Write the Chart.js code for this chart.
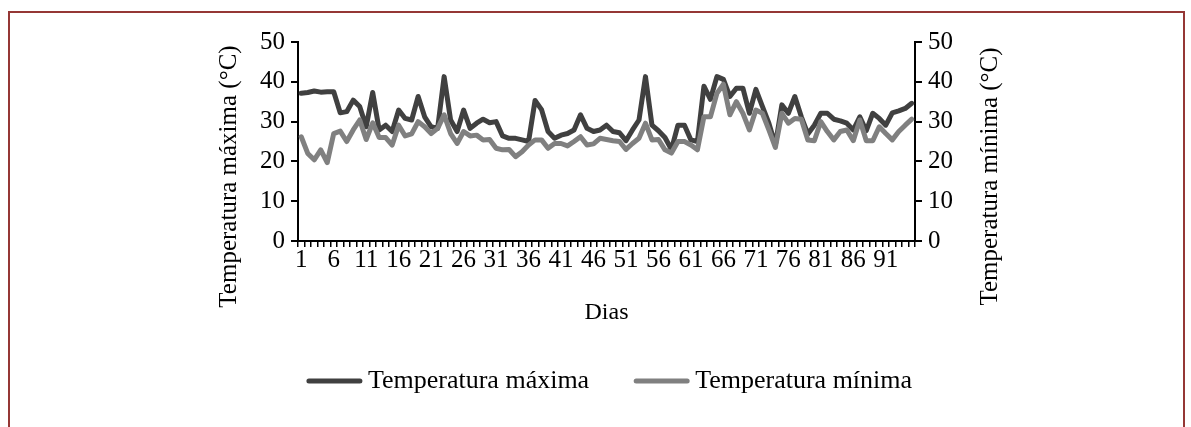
<!DOCTYPE html>
<html><head><meta charset="utf-8">
<script src="https://cdn.jsdelivr.net/npm/chart.js@4"></script>
<style>
html,body{margin:0;padding:0;background:#fff;overflow:hidden;}
#frame{position:absolute;left:8px;top:11px;width:1173px;height:500px;border:2px solid #953735;}
#wrap{position:absolute;left:0;top:0;width:1191px;height:427px;}
</style></head><body>
<div id="frame"></div>
<div id="wrap"><canvas id="c" width="1191" height="427"></canvas></div>
<script>
const days = [1,2,3,4,5,6,7,8,9,10,11,12,13,14,15,16,17,18,19,20,21,22,23,24,25,26,27,28,29,30,31,32,33,34,35,36,37,38,39,40,41,42,43,44,45,46,47,48,49,50,51,52,53,54,55,56,57,58,59,60,61,62,63,64,65,66,67,68,69,70,71,72,73,74,75,76,77,78,79,80,81,82,83,84,85,86,87,88,89,90,91,92,93,94,95];
const tickLabels = [1,6,11,16,21,26,31,36,41,46,51,56,61,66,71,76,81,86,91];
const yTicks = [0,10,20,30,40,50];
const tempMax = [
37.1,37.3,37.7,37.4,37.5,37.5,32.2,32.5,35.4,33.8,
28.7,37.3,27.9,29.1,27.5,32.9,30.8,30.4,36.3,31.2,
28.7,28.3,41.3,30.4,27.5,32.9,28.3,29.6,30.6,29.7,
30.0,26.4,25.8,25.8,25.4,25.0,35.3,33.0,
27.5,25.8,26.6,27.0,27.9,31.7,28.3,27.5,27.9,29.1,27.5,27.2,25.2,27.9,30.4,41.3,29.1,27.7,26.0,
23.0,29.1,29.1,25.4,25.0,38.9,35.6,41.3,40.6,36.3,38.4,38.4,32.1,38.1,33.8,29.6,24.1,34.2,32.1,36.3,
31.2,26.9,29.1,32.1,32.1,30.6,30.2,29.6,27.9,31.2,27.7,32.1,30.8,29.1,32.2,32.7,33.3,34.6];
const tempMin = [
26.2,22.0,20.4,22.9,19.7,27.0,27.6,25.0,27.9,30.4,
25.5,29.7,26.0,26.0,24.1,29.1,26.4,26.9,30.0,28.7,
27.0,28.3,31.7,27.0,24.5,27.5,26.4,26.6,25.4,25.5,
23.3,22.9,23.0,21.2,22.4,24.1,25.4,25.4,
23.3,24.5,24.5,23.9,25.0,26.2,24.1,24.4,25.8,25.5,25.2,25.0,23.0,24.5,25.8,29.6,25.4,25.5,22.9,
22.1,25.0,25.0,24.1,22.9,31.2,31.2,37.1,39.4,31.7,35.0,32.1,27.9,32.9,32.1,27.9,23.5,32.1,29.6,30.8,
30.6,25.4,25.2,30.0,27.5,25.4,27.5,27.9,25.2,30.4,25.2,25.2,28.7,27.0,25.4,27.5,29.1,30.6];
const seriesNames = ['Temperatura máxima','Temperatura mínima'];
const axisTitles = ['Temperatura máxima (°C)','Temperatura mínima (°C)','Dias'];

const FONT = '"Liberation Serif", "Times New Roman", serif';

const extras = {
  id: 'extras',
  afterDraw(chart) {
    const ctx = chart.ctx, ca = chart.chartArea;
    ctx.save();
    ctx.fillStyle = '#000';
    ctx.font = '25px ' + FONT;
    ctx.textAlign = 'center';
    ctx.textBaseline = 'middle';
    const cy = (ca.top + ca.bottom) / 2 + 35;
    const pos = [[chart.scales.y.left + 16, axisTitles[0]], [chart.scales.y2.right - 17, axisTitles[1]]];
    pos.forEach(([x, t]) => {
      ctx.save(); ctx.translate(x, cy); ctx.rotate(-Math.PI / 2); ctx.fillText(t, 0, 0); ctx.restore();
    });
    // legend
    ctx.font = '26px ' + FONT;
    ctx.textAlign = 'left';
    const ds = chart.data.datasets;
    const lineW = 55, gap = 6, itemGap = 45;
    const widths = ds.map(d => ctx.measureText(d.label).width);
    const total = widths.reduce((a, w) => a + lineW + gap + w, 0) + itemGap * (ds.length - 1);
    let x = (ca.left + ca.right) / 2 + 3 - total / 2;
    const ly = 381;
    ds.forEach((d, i) => {
      ctx.strokeStyle = d.borderColor; ctx.lineWidth = 5; ctx.lineCap = 'round';
      ctx.beginPath(); ctx.moveTo(x + 2, ly); ctx.lineTo(x + lineW - 2, ly); ctx.stroke();
      ctx.fillText(d.label, x + lineW + gap, ly);
      x += lineW + gap + widths[i] + itemGap;
    });
    ctx.restore();
  }
};

const yAxis = (pos, w) => ({
  type: 'linear', position: pos, min: 0, max: 50,
  afterBuildTicks: s => { s.ticks = yTicks.map(v => ({value: v})); },
  ticks: { color: '#000', font: { family: FONT, size: 25 }, padding: 6 },
  grid: { drawOnChartArea: false, drawTicks: true, tickLength: 7, color: '#000', lineWidth: 2 },
  border: { color: '#000', width: 2 },
  title: { display: false },
  afterFit: s => { s.width = w; }
});

new Chart(document.getElementById('c'), {
  type: 'line',
  data: {
    labels: days,
    datasets: [
      { label: seriesNames[0], data: tempMax, yAxisID: 'y', borderColor: '#404040', backgroundColor: '#404040', borderWidth: 5, pointRadius: 0, tension: 0, borderJoinStyle: 'round', borderCapStyle: 'round', order: 2 },
      { label: seriesNames[1], data: tempMin, yAxisID: 'y2', borderColor: '#808080', backgroundColor: '#808080', borderWidth: 5, pointRadius: 0, tension: 0, borderJoinStyle: 'round', borderCapStyle: 'round', order: 1 }
    ]
  },
  options: {
    responsive: false, animation: false, devicePixelRatio: 1,
    layout: { padding: { left: 213, right: 184, top: 42, bottom: 100 } },
    plugins: { legend: { display: false }, tooltip: { enabled: false } },
    scales: {
      x: {
        type: 'category', offset: true,
        grid: { offset: true, drawOnChartArea: false, drawTicks: true, tickLength: 6, color: '#000', lineWidth: 1.5 },
        border: { color: '#000', width: 2 },
        ticks: { autoSkip: false, maxRotation: 0, minRotation: 0, color: '#000', font: { family: FONT, size: 25 }, padding: -2,
          callback: function(v, i) { return tickLabels.includes(days[i]) ? String(days[i]) : ''; } },
        title: { display: true, text: axisTitles[2], color: '#000', font: { family: FONT, size: 24 }, padding: { top: 0, bottom: 0 } },
        afterFit: s => { s.height = 86; }
      },
      y: yAxis('left', 85),
      y2: yAxis('right', 92)
    }
  },
  plugins: [extras]
});
</script>
</body></html>
